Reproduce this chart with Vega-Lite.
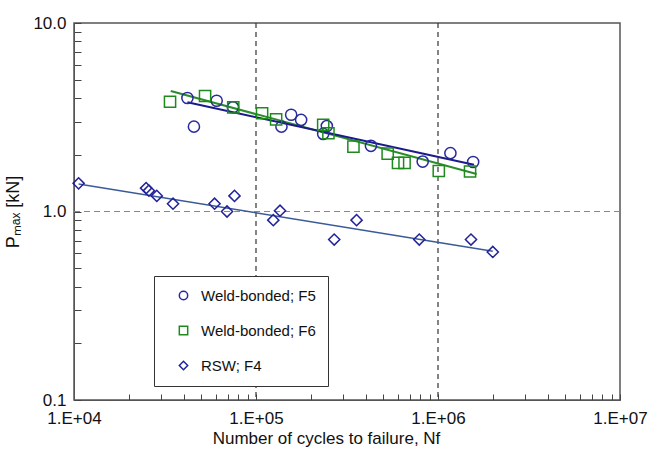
{
  "$schema": "https://vega.github.io/schema/vega-lite/v6.json",
  "width": 546,
  "height": 377,
  "autosize": {"type": "none"},
  "padding": {"left": 74, "top": 23, "right": 39, "bottom": 53},
  "background": "white",
  "config": {
    "font": "Liberation Sans",
    "view": {"stroke": "#555555", "strokeWidth": 1.5},
    "axis": {"labelFont": "Liberation Sans", "titleFont": "Liberation Sans", "labelColor": "#111", "titleColor": "#111", "domainColor": "#555", "tickColor": "#444", "grid": false, "labelFlush": false, "labelOverlap": false, "labelBound": false, "titleFontWeight": "normal"},
    "legend": {"labelFont": "Liberation Sans"}
  },
  "resolve": {"axis": {"x": "independent", "y": "independent"}},
  "datasets": {
    "pts": [
      {"series": "Weld-bonded; F5", "N": 42000, "P": 4.0},
      {"series": "Weld-bonded; F5", "N": 45600, "P": 2.82},
      {"series": "Weld-bonded; F5", "N": 60800, "P": 3.87},
      {"series": "Weld-bonded; F5", "N": 74700, "P": 3.57},
      {"series": "Weld-bonded; F5", "N": 138000, "P": 2.82},
      {"series": "Weld-bonded; F5", "N": 156000, "P": 3.26},
      {"series": "Weld-bonded; F5", "N": 177000, "P": 3.06},
      {"series": "Weld-bonded; F5", "N": 234000, "P": 2.58},
      {"series": "Weld-bonded; F5", "N": 245000, "P": 2.84},
      {"series": "Weld-bonded; F5", "N": 428000, "P": 2.23},
      {"series": "Weld-bonded; F5", "N": 824000, "P": 1.84},
      {"series": "Weld-bonded; F5", "N": 1170000, "P": 2.04},
      {"series": "Weld-bonded; F5", "N": 1560000, "P": 1.83},
      {"series": "Weld-bonded; F6", "N": 33700, "P": 3.82},
      {"series": "Weld-bonded; F6", "N": 52500, "P": 4.1},
      {"series": "Weld-bonded; F6", "N": 75000, "P": 3.57},
      {"series": "Weld-bonded; F6", "N": 108000, "P": 3.32},
      {"series": "Weld-bonded; F6", "N": 129000, "P": 3.08},
      {"series": "Weld-bonded; F6", "N": 234000, "P": 2.88},
      {"series": "Weld-bonded; F6", "N": 250000, "P": 2.6},
      {"series": "Weld-bonded; F6", "N": 343000, "P": 2.21},
      {"series": "Weld-bonded; F6", "N": 529000, "P": 2.03},
      {"series": "Weld-bonded; F6", "N": 603000, "P": 1.81},
      {"series": "Weld-bonded; F6", "N": 655000, "P": 1.81},
      {"series": "Weld-bonded; F6", "N": 1010000, "P": 1.64},
      {"series": "Weld-bonded; F6", "N": 1500000, "P": 1.63},
      {"series": "RSW; F4", "N": 10600, "P": 1.41},
      {"series": "RSW; F4", "N": 24900, "P": 1.33},
      {"series": "RSW; F4", "N": 25800, "P": 1.29},
      {"series": "RSW; F4", "N": 28500, "P": 1.21},
      {"series": "RSW; F4", "N": 35000, "P": 1.1},
      {"series": "RSW; F4", "N": 59200, "P": 1.1},
      {"series": "RSW; F4", "N": 69300, "P": 1.0},
      {"series": "RSW; F4", "N": 76200, "P": 1.21},
      {"series": "RSW; F4", "N": 124500, "P": 0.9},
      {"series": "RSW; F4", "N": 135500, "P": 1.01},
      {"series": "RSW; F4", "N": 269000, "P": 0.71},
      {"series": "RSW; F4", "N": 357000, "P": 0.9},
      {"series": "RSW; F4", "N": 789000, "P": 0.71},
      {"series": "RSW; F4", "N": 1518000, "P": 0.71},
      {"series": "RSW; F4", "N": 2000000, "P": 0.61}
    ],
    "fits": [
      {"fit": "F5", "N": 42000, "P": 3.8},
      {"fit": "F5", "N": 1577000, "P": 1.77},
      {"fit": "F6", "N": 34000, "P": 4.36},
      {"fit": "F6", "N": 1630000, "P": 1.58},
      {"fit": "F4", "N": 10600, "P": 1.4},
      {"fit": "F4", "N": 2000000, "P": 0.615}
    ],
    "vgrid": [{"N": 100000}, {"N": 1000000}],
    "hgrid": [{"P": 1.0}]
  },
  "layer": [
    {
      "data": {"name": "vgrid"},
      "mark": {"type": "rule", "color": "#333333", "strokeDash": [5, 4], "strokeWidth": 1.2},
      "encoding": {"x": {"field": "N", "type": "quantitative", "scale": {"type": "log", "domain": [10000, 10000000], "nice": false},
        "axis": {"orient": "bottom", "title": null, "labels": false, "domain": false, "offset": -6, "tickSize": 6, "ticks": true,
          "values": [10000, 20000, 30000, 40000, 50000, 60000, 70000, 80000, 90000, 100000, 200000, 300000, 400000, 500000, 600000, 700000, 800000, 900000, 1000000, 2000000, 3000000, 4000000, 5000000, 6000000, 7000000, 8000000, 9000000, 10000000]}}}
    },
    {
      "data": {"name": "hgrid"},
      "mark": {"type": "rule", "color": "#888888", "strokeDash": [6, 4], "strokeWidth": 1.2},
      "encoding": {"y": {"field": "P", "type": "quantitative", "scale": {"type": "log", "domain": [0.1, 10], "nice": false},
        "axis": {"orient": "left", "title": null, "labels": false, "domain": false, "offset": -7, "tickSize": 7, "ticks": true,
          "values": [0.1, 0.2, 0.3, 0.4, 0.5, 0.6, 0.7, 0.8, 0.9, 1, 2, 3, 4, 5, 6, 7, 8, 9, 10]}}}
    },
    {
      "data": {"name": "fits"},
      "transform": [{"filter": "datum.fit == 'F4'"}],
      "mark": {"type": "line", "color": "#3a5a98", "strokeWidth": 1.4},
      "encoding": {
        "x": {"field": "N", "type": "quantitative", "axis": null},
        "y": {"field": "P", "type": "quantitative", "axis": null}
      }
    },
    {
      "data": {"name": "fits"},
      "transform": [{"filter": "datum.fit == 'F6'"}],
      "mark": {"type": "line", "color": "#2a8c2a", "strokeWidth": 2},
      "encoding": {
        "x": {"field": "N", "type": "quantitative", "axis": null},
        "y": {"field": "P", "type": "quantitative", "axis": null}
      }
    },
    {
      "data": {"name": "fits"},
      "transform": [{"filter": "datum.fit == 'F5'"}],
      "mark": {"type": "line", "color": "#1a1a8a", "strokeWidth": 2},
      "encoding": {
        "x": {"field": "N", "type": "quantitative", "axis": null},
        "y": {"field": "P", "type": "quantitative", "axis": null}
      }
    },
    {
      "data": {"name": "pts"},
      "mark": {"type": "point", "filled": false, "strokeWidth": 1.5, "size": 125, "opacity": 1},
      "encoding": {
        "x": {
          "field": "N", "type": "quantitative",
          "scale": {"type": "log", "domain": [10000, 10000000], "nice": false},
          "axis": {
            "orient": "bottom",
            "title": "Number of cycles to failure, Nf",
            "values": [10000, 100000, 1000000, 10000000],
            "labelExpr": "'1.E+0' + round(log(datum.value)/LN10)",
            "ticks": false,
            "labelPadding": 10,
            "labelFontSize": 17,
            "titleFontSize": 17,
            "titlePadding": 4,
            "titleX": 252
          }
        },
        "y": {
          "field": "P", "type": "quantitative",
          "scale": {"type": "log", "domain": [0.1, 10], "nice": false},
          "axis": {
            "orient": "left",
            "title": "Pₘₐₓ [kN]",
            "values": [0.1, 1, 10],
            "labelExpr": "format(datum.value, '.1f')",
            "ticks": false,
            "labelPadding": 8,
            "labelFontSize": 17,
            "titleFontSize": 18,
            "titlePadding": 10
          }
        },
        "shape": {
          "field": "series", "type": "nominal",
          "scale": {"domain": ["Weld-bonded; F5", "Weld-bonded; F6", "RSW; F4"], "range": ["circle", "square", "diamond"]},
          "legend": {
            "title": null, "orient": "none", "legendX": 80, "legendY": 253,
            "strokeColor": "#333333", "fillColor": "white", "padding": 12,
            "labelFontSize": 15, "labelColor": "#111", "symbolSize": 70, "symbolStrokeWidth": 1.5,
            "rowPadding": 19, "labelOffset": 10, "symbolOffset": 10, "labelLimit": 300
          }
        },
        "color": {
          "field": "series", "type": "nominal",
          "scale": {"domain": ["Weld-bonded; F5", "Weld-bonded; F6", "RSW; F4"], "range": ["#2a2a9c", "#1e8a1e", "#22229a"]},
          "legend": {
            "title": null, "orient": "none", "legendX": 80, "legendY": 253,
            "strokeColor": "#333333", "fillColor": "white", "padding": 12,
            "labelFontSize": 15, "labelColor": "#111", "symbolSize": 70, "symbolStrokeWidth": 1.5,
            "rowPadding": 19, "labelOffset": 10, "symbolOffset": 10, "labelLimit": 300
          }
        }
      }
    }
  ]
}
